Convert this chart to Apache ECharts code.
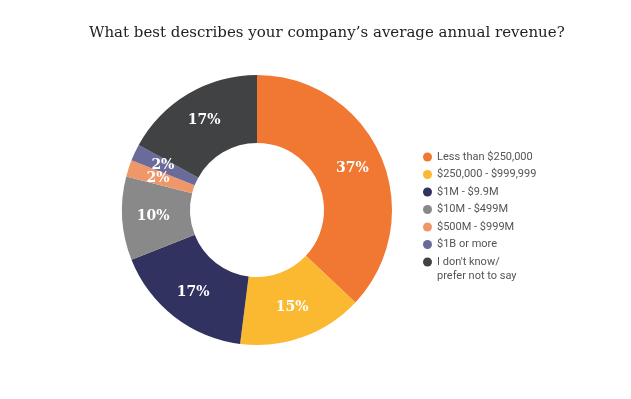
<!DOCTYPE html>
<html>
<head>
<meta charset="utf-8">
<script src="https://cdn.jsdelivr.net/npm/echarts@6/dist/echarts.min.js"></script>
<style>
  html, body { margin: 0; padding: 0; background: #fff; }
  #chart { width: 631px; height: 399px; }
</style>
</head>
<body>
<div id="chart"></div>
<script>
// 数据
var categories = ['Less than $250,000', '$250,000 - $999,999', '$1M - $9.9M', '$10M - $499M',
                  '$500M - $999M', '$1B or more', "I don't know/"];
var lastLabelLine2 = 'prefer not to say';
var values = [37, 15, 17, 10, 2, 2, 17];
var colors = ['#f07832', '#fbb931', '#31325f', '#898989', '#f0976a', '#6a6a9b', '#414244'];

var chart = echarts.init(document.getElementById('chart'));

var option = {
    title: {
        text: 'What best describes your company\u2019s average annual revenue?',
        left: 84,
        top: 21,
        textStyle: { fontFamily: 'DejaVu Serif', fontWeight: 'normal', fontSize: 15, color: '#222' }
    },
    color: colors,
    legend: {
        orient: 'vertical',
        left: 418,
        top: 145,
        itemWidth: 9,
        itemHeight: 9,
        itemGap: 3.5,
        icon: 'circle',
        textStyle: { fontFamily: 'Roboto', fontSize: 11, color: '#555', lineHeight: 14 },
        data: categories
    },
    // 图例最后一项的第二行
    graphic: [{
        type: 'text',
        left: 437,
        top: 271,
        style: { text: lastLabelLine2, font: '11px Roboto', fill: '#555' }
    }],
    series: [{
        type: 'pie',
        center: [257, 210],
        radius: [67, 135],
        startAngle: 90,
        clockwise: true,
        avoidLabelOverlap: false,
        label: {
            show: true,
            position: 'inside',
            formatter: '{c}%',
            color: '#fff',
            fontFamily: 'DejaVu Serif',
            fontWeight: 'bold',
            fontSize: 14
        },
        labelLayout: { hideOverlap: false },
        labelLine: { show: false },
        itemStyle: { borderWidth: 0 },
        emphasis: { disabled: true },
        data: categories.map(function (c, i) { return { name: c, value: values[i] }; })
    }]
};

chart.setOption(option);
</script>
</body>
</html>
